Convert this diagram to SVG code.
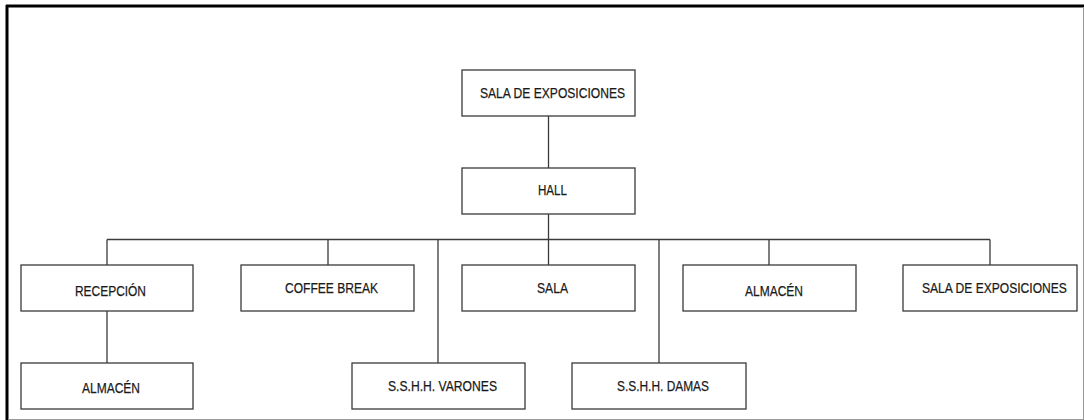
<svg xmlns="http://www.w3.org/2000/svg" width="1084" height="420" viewBox="0 0 1084 420">
<style>
.box{fill:#fff;stroke:#3a3a3a;stroke-width:1.3}
.lbl{font-family:"Liberation Sans",Arial,sans-serif;font-size:15px;fill:#1a1a1a;stroke:#1a1a1a;stroke-width:0.25}
.con{fill:none;stroke:#3a3a3a;stroke-width:1.3}
</style>
<rect x="0" y="0" width="1084" height="420" fill="#fff"/>
<line x1="6" y1="6" x2="1084" y2="6" stroke="#000" stroke-width="3"/>
<line x1="7" y1="5" x2="7" y2="420" stroke="#000" stroke-width="3"/>
<line x1="1083.5" y1="7" x2="1083.5" y2="420" stroke="#999" stroke-width="1"/>
<line x1="8" y1="419.5" x2="1084" y2="419.5" stroke="#999" stroke-width="1"/>
<g id="connectors">
<line class="con" x1="548.5" y1="116" x2="548.5" y2="168"/>
<line class="con" x1="548.5" y1="214" x2="548.5" y2="265"/>
<line class="con" x1="107" y1="239.5" x2="990" y2="239.5"/>
<line class="con" x1="107" y1="239.5" x2="107" y2="265"/>
<line class="con" x1="107" y1="311" x2="107" y2="363"/>
<line class="con" x1="328" y1="239.5" x2="328" y2="265"/>
<line class="con" x1="438" y1="239.5" x2="438" y2="363"/>
<line class="con" x1="659" y1="239.5" x2="659" y2="363"/>
<line class="con" x1="769" y1="239.5" x2="769" y2="265"/>
<line class="con" x1="990" y1="239.5" x2="990" y2="265"/>
</g>
<g id="n-sala-exp-top"><rect class="box" x="462" y="70" width="173" height="46"/><text class="lbl" x="480" y="98" textLength="145" lengthAdjust="spacingAndGlyphs">SALA DE EXPOSICIONES</text></g>
<g id="n-hall"><rect class="box" x="462" y="168" width="173" height="46"/><text class="lbl" x="538" y="195" textLength="29" lengthAdjust="spacingAndGlyphs">HALL</text></g>
<g id="n-recepcion"><rect class="box" x="21" y="265" width="172" height="46"/><text class="lbl" x="75" y="296" textLength="71" lengthAdjust="spacingAndGlyphs">RECEPCIÓN</text></g>
<g id="n-almacen-1"><rect class="box" x="21" y="363" width="172" height="46"/><text class="lbl" x="82" y="393" textLength="58" lengthAdjust="spacingAndGlyphs">ALMACÉN</text></g>
<g id="n-coffee"><rect class="box" x="241" y="265" width="173" height="46"/><text class="lbl" x="285" y="293" textLength="93" lengthAdjust="spacingAndGlyphs">COFFEE BREAK</text></g>
<g id="n-sala"><rect class="box" x="462" y="265" width="173" height="46"/><text class="lbl" x="537" y="293" textLength="31" lengthAdjust="spacingAndGlyphs">SALA</text></g>
<g id="n-varones"><rect class="box" x="352" y="363" width="173" height="46"/><text class="lbl" x="388" y="391" textLength="109" lengthAdjust="spacingAndGlyphs">S.S.H.H. VARONES</text></g>
<g id="n-damas"><rect class="box" x="572" y="363" width="174" height="46"/><text class="lbl" x="617" y="391" textLength="92" lengthAdjust="spacingAndGlyphs">S.S.H.H. DAMAS</text></g>
<g id="n-almacen-2"><rect class="box" x="683" y="265" width="173" height="46"/><text class="lbl" x="745" y="296" textLength="58" lengthAdjust="spacingAndGlyphs">ALMACÉN</text></g>
<g id="n-sala-exp-right"><rect class="box" x="903" y="265" width="174" height="46"/><text class="lbl" transform="translate(922 293) scale(0.805 1)" x="0" y="0">SALA DE EXPOSICIONES</text></g>
</svg>
